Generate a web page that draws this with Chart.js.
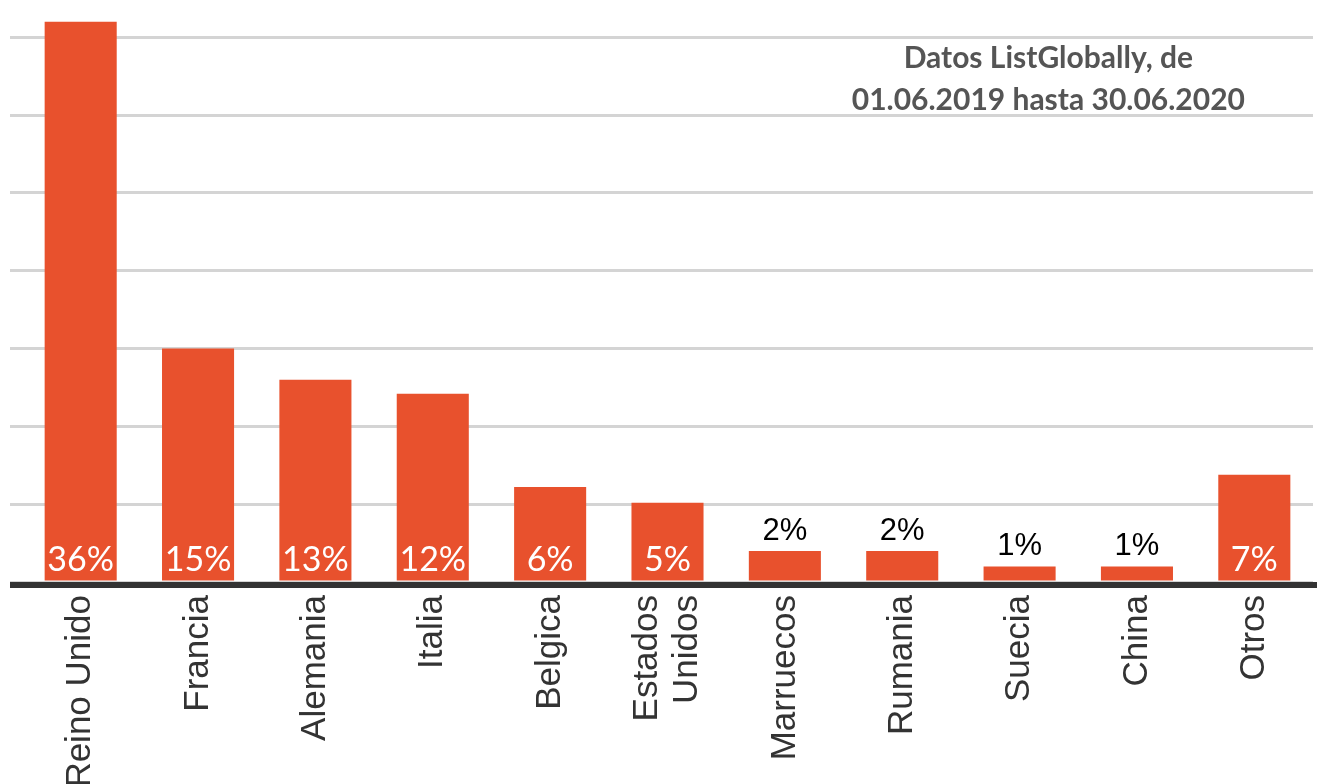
<!DOCTYPE html>
<html>
<head>
<meta charset="utf-8">
<script src="https://cdn.jsdelivr.net/npm/chart.js@4"></script>
<style>
  html, body { margin: 0; padding: 0; background: #fff; }
  #wrap { width: 1317px; height: 784px; }
</style>
</head>
<body>
<div id="wrap"><canvas id="myChart" width="1317" height="784"></canvas></div>
<script>
const countries = ['Reino Unido', 'Francia', 'Alemania', 'Italia', 'Belgica', ['Estados', 'Unidos'], 'Marruecos', 'Rumania', 'Suecia', 'China', 'Otros'];
const shares = [36, 15, 13, 12.1, 6.1, 5.1, 2, 2, 1, 1, 6.9];
const gridTicks = [0, 5, 10, 15, 20, 25, 30, 35];
const titleLines = ['Datos ListGlobally, de', '01.06.2019 hasta 30.06.2020'];

const barColor = '#e8512d';

// value labels: white inside big bars, black above small ones
const valueLabels = {
  id: 'valueLabels',
  afterDatasetsDraw(chart) {
    const ctx = chart.ctx;
    const meta = chart.getDatasetMeta(0);
    ctx.save();
    ctx.textAlign = 'center';
    ctx.textBaseline = 'alphabetic';
    meta.data.forEach((bar, i) => {
      const v = shares[i];
      const txt = Math.round(v) + '%';
      if (v >= 5) {
        ctx.fillStyle = '#fff';
        ctx.font = '34px Lato';
        ctx.fillText(txt, bar.x, bar.base - 10);
      } else {
        ctx.fillStyle = '#000';
        ctx.font = '31px "Liberation Sans"';
        ctx.fillText(txt, bar.x, bar.y - 11);
      }
    });
    ctx.restore();
  }
};

// thick dark baseline, rotated category names, title text
const extras = {
  id: 'extras',
  afterDatasetsDraw(chart) {
    const ctx = chart.ctx;
    const xs = chart.scales.x;
    const y0 = chart.scales.y.getPixelForValue(0);
    ctx.save();
    ctx.fillStyle = '#333';
    ctx.fillRect(10, Math.round(y0), chart.width - 10, 6);

    // category labels, reading upwards, centred on each tick
    ctx.font = '35px "Liberation Sans", Arial, sans-serif';
    ctx.textAlign = 'right';
    ctx.textBaseline = 'middle';
    countries.forEach((lab, i) => {
      const lines = Array.isArray(lab) ? lab : [lab];
      const px = xs.getPixelForTick(i);
      ctx.save();
      ctx.translate(px, xs.top + 13);
      ctx.rotate(-Math.PI / 2);
      lines.forEach((ln, j) => {
        ctx.fillText(ln, 0, (j - (lines.length - 1) / 2) * 40);
      });
      ctx.restore();
    });

    ctx.fillStyle = '#555';
    ctx.font = 'bold 30px Lato';
    ctx.textAlign = 'center';
    ctx.textBaseline = 'middle';
    const cx = chart.width * 0.796;
    titleLines.forEach((t, i) => ctx.fillText(t, cx, 58 + i * 42));
    ctx.restore();
  }
};

const ctx = document.querySelector('#myChart').getContext('2d');

const config = {
  type: 'bar',
  data: {
    labels: countries,
    datasets: [{
      data: shares,
      backgroundColor: barColor,
      borderWidth: 0,
      categoryPercentage: 1,
      barPercentage: 0.614
    }]
  },
  plugins: [valueLabels, extras],
  options: {
    responsive: false,
    animation: false,
    layout: { padding: { left: 10, right: 4, top: 0, bottom: 0 } },
    plugins: {
      legend: { display: false },
      tooltip: { enabled: false }
    },
    scales: {
      x: {
        grid: { display: false },
        border: { display: false },
        ticks: { display: false },
        afterFit: (scale) => { scale.height = 202; }
      },
      y: {
        min: 0,
        max: 37.4,
        ticks: { display: false, stepSize: 5 },
        afterBuildTicks: (scale) => {
          scale.ticks = gridTicks.map(v => ({ value: v }));
        },
        grid: { color: '#d4d4d4', lineWidth: 3, tickLength: 12, drawTicks: true },
        border: { display: false }
      }
    }
  }
};

const myChart = new Chart(ctx, config);
</script>
</body>
</html>
